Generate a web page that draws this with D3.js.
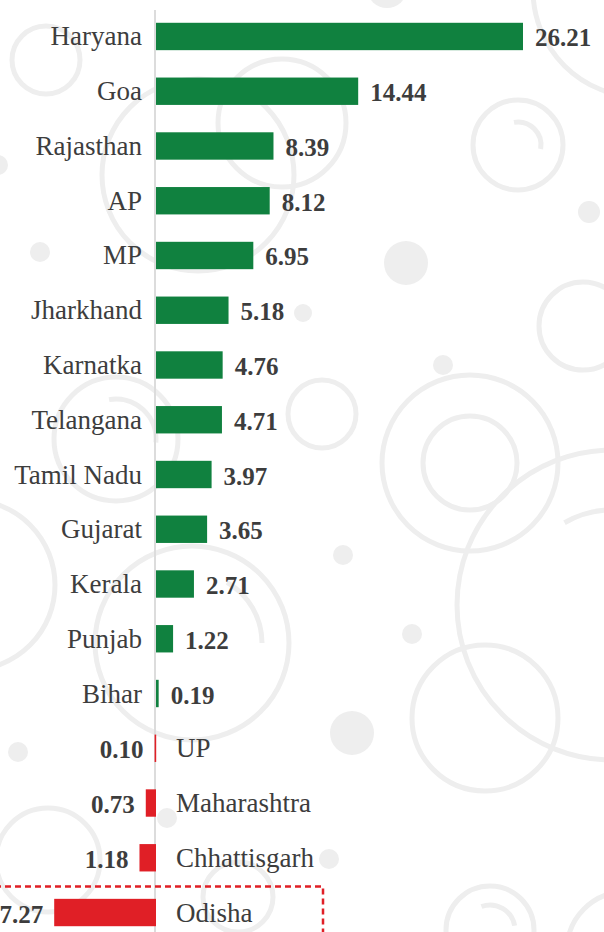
<!DOCTYPE html>
<html>
<head>
<meta charset="utf-8">
<script src="https://cdn.jsdelivr.net/npm/d3@7"></script>
<style>
  html, body { margin: 0; padding: 0; background: #fff; }
  svg { display: block; }
</style>
</head>
<body>
<svg id="chart"></svg>
<script>
// states, top to bottom
const states = ["Haryana", "Goa", "Rajasthan", "AP", "MP", "Jharkhand", "Karnatka", "Telangana",
  "Tamil Nadu", "Gujarat", "Kerala", "Punjab", "Bihar", "UP", "Maharashtra", "Chhattisgarh", "Odisha"];
const values = [26.21, 14.44, 8.39, 8.12, 6.95, 5.18, 4.76, 4.71,
  3.97, 3.65, 2.71, 1.22, 0.19, -0.10, -0.73, -1.18, -7.27];
const highlighted = ["Odisha"];

// background ornament: rings [cx, cy, r] and dots [cx, cy, r]
const rings = [[46, 60, 34], [640, -10, 107], [282, 123, 64], [198, 175, 96], [518, 145, 45],
  [583, 326, 44], [116, 439, 62], [322, 414, 34], [470, 463, 88], [470, 463, 47],
  [612, 605, 155], [192, 643, 97], [-30, 585, 85], [485, 718, 73], [48, 860, 52],
  [238, 897, 35], [490, 930, 44], [625, 950, 58]];
const arcs = [[518, 145, 23, -10, 100], [116, 439, 40, -10, 95], [612, 605, 95, -30, 20],
  [192, 643, 70, 30, 90], [490, 930, 25, -20, 80]];
const dots = [[387, -12, 20], [589, 212, 11], [40, 252, 10], [-2, 165, 10], [406, 263, 22],
  [303, 313, 9], [443, 365, 10], [343, 555, 10], [412, 634, 10], [352, 733, 22],
  [329, 859, 10], [18, 752, 10], [167, 818, 10]];

const width = 604, height = 932;
const green = "#10813f", red = "#e01f26", ink = "#3d3d3d", decor = "#eeeeee";

const svg = d3.select("#chart").attr("width", width).attr("height", height);

// decorative background
const bg = svg.append("g");
bg.selectAll("circle.ring").data(rings).enter().append("circle")
  .attr("cx", d => d[0]).attr("cy", d => d[1]).attr("r", d => d[2])
  .attr("fill", "none").attr("stroke", decor).attr("stroke-width", 5);
bg.selectAll("path.arc").data(arcs).enter().append("path")
  .attr("transform", d => `translate(${d[0]},${d[1]})`)
  .attr("d", d => d3.arc()({innerRadius: d[2], outerRadius: d[2], startAngle: d[3] * Math.PI / 180, endAngle: d[4] * Math.PI / 180}))
  .attr("fill", "none").attr("stroke", decor).attr("stroke-width", 5).attr("stroke-linecap", "round");
bg.selectAll("circle.dot").data(dots).enter().append("circle")
  .attr("cx", d => d[0]).attr("cy", d => d[1]).attr("r", d => d[2])
  .attr("fill", decor);

const data = states.map((s, i) => ({ state: s, value: values[i] }));

const x = d3.scaleLinear()
  .domain([0, 26.21])
  .range([156, 523]);

const y = d3.scaleBand()
  .domain(states)
  .range([9.1, 939.9])
  .paddingInner(0.5)
  .paddingOuter(0.25);

// zero line
svg.append("line")
  .attr("x1", x(0) - 1).attr("x2", x(0) - 1)
  .attr("y1", 10).attr("y2", height)
  .attr("stroke", "#dcdcdc").attr("stroke-width", 2);

// highlight box
svg.selectAll("rect.hl").data(highlighted).enter().append("rect")
  .attr("x", -5).attr("y", d => y(d) + y.bandwidth() / 2 - 26)
  .attr("width", 323 + 5).attr("height", 80)
  .attr("fill", "none").attr("stroke", red).attr("stroke-width", 2.5)
  .attr("stroke-dasharray", "6,4");

// bars
svg.selectAll("rect.bar").data(data).enter().append("rect")
  .attr("class", "bar")
  .attr("x", d => Math.min(x(0), x(d.value)))
  .attr("y", d => y(d.state))
  .attr("width", d => Math.max(Math.abs(x(d.value) - x(0)), 1.6))
  .attr("height", y.bandwidth())
  .attr("fill", d => d.value >= 0 ? green : red);

// category labels
svg.selectAll("text.cat").data(data).enter().append("text")
  .attr("x", d => d.value >= 0 ? x(0) - 14 : x(0) + 20)
  .attr("y", d => y(d.state) + y.bandwidth() / 2 + 9)
  .attr("text-anchor", d => d.value >= 0 ? "end" : "start")
  .style("font-family", "'Liberation Serif', serif")
  .style("font-size", "27px")
  .style("fill", ink)
  .text(d => d.state);

// value labels
svg.selectAll("text.val").data(data).enter().append("text")
  .attr("x", d => d.value >= 0 ? x(d.value) + 12 : x(d.value) - 11)
  .attr("y", d => y(d.state) + y.bandwidth() / 2 + 10)
  .attr("text-anchor", d => d.value >= 0 ? "start" : "end")
  .style("font-family", "'Liberation Serif', serif")
  .style("font-weight", "bold")
  .style("font-size", "25px")
  .style("fill", ink)
  .text(d => d3.format(".2f")(Math.abs(d.value)));
</script>
</body>
</html>
